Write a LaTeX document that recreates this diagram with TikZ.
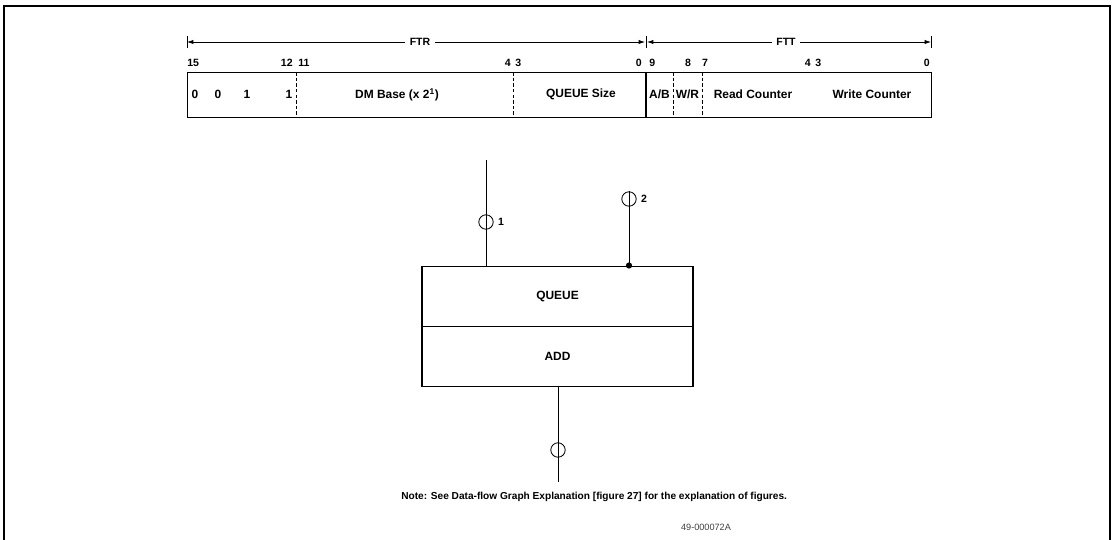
\documentclass[tikz,border=0pt]{standalone}
\usepackage{fontspec}
\setsansfont{Liberation Sans}
\usetikzlibrary{arrows.meta,positioning,calc}

\begin{document}
\begin{tikzpicture}[x=0.025cm, y=-0.025cm,
  every node/.style={font=\sffamily\bfseries\fontsize{8.5}{10}\selectfont, inner sep=0pt},
  bitno/.style={font=\sffamily\bfseries\fontsize{7.5}{9}\selectfont},
  divider/.style={line width=0.6pt, dash pattern=on 2.5pt off 1.5pt},
  opbox/.style={draw, line width=0.9pt, outer sep=0pt, minimum width=6.775cm, minimum height=1.5cm},
  port/.style={draw, circle, line width=0.6pt, minimum size=0.36cm},
  fieldspan/.style={line width=0.5pt, -{Latex[length=4.5pt,width=3pt]}}]
  \pgfmathsetmacro{\regtop}{72}
  \pgfmathsetmacro{\regbot}{117}
  \pgfmathsetmacro{\numy}{66}
  \pgfmathsetmacro{\spany}{42}
  \useasboundingbox (0,0) rectangle (1114,540);
  % Frame (open at the bottom)
  \draw[line width=1.2pt] (4,540) -- (4,6) -- (1110,6) -- (1110,540);
  % FTR / FTT spans
  \node[bitno, inner sep=3pt] (ftr) at (420,\spany) {FTR};
  \node[bitno, inner sep=3pt] (ftt) at (786,\spany) {FTT};
  \coordinate (ftrL) at (187,\spany);
  \coordinate (ftrR) at (645,\spany);
  \coordinate (fttL) at (647,\spany);
  \coordinate (fttR) at (931,\spany);
  \draw[fieldspan] (ftr.west) -- (ftrL);
  \draw[fieldspan] (ftr.east) -- (ftrR);
  \draw[fieldspan] (ftt.west) -- (fttL);
  \draw[fieldspan] (ftt.east) -- (fttR);
  \foreach \x in {187,646,931}
    \draw[line width=0.6pt] (\x,\spany-6) -- (\x,\spany+6);
  % Register
  \node[draw, line width=0.8pt, anchor=north west, minimum width=18.6cm,
    minimum height=1.125cm] (reg) at (187,\regtop) {};
  \foreach \x in {296,513,673,702}
    \draw[divider] (\x,\regtop) -- (\x,\regbot);
  \draw[line width=0.8pt] (646,\regtop) -- (646,\regbot);
  % Field contents
  \foreach \x/\v in {195/0, 218/0, 247/1, 289/1}
    \node at (\x,94.5) {\v};
  \node (dmbase) at (397,94.5) {DM Base (x 2\textsuperscript{1})};
  \node (qsize) at (581,94.5) {QUEUE Size};
  \node (ab) at (659.5,94.5) {A/B};
  \node (wr) at (687.5,94.5) {W/R};
  \node (rdcnt) at (753,94.5) {Read Counter};
  \node (wrcnt) at (872,94.5) {Write Counter};
  % Bit numbers
  \node[bitno, anchor=base west] at (187,\numy) {15};
  \node[bitno, anchor=base east] at (293,\numy) {12};
  \node[bitno, anchor=base west] at (298,\numy) {11};
  \node[bitno, anchor=base east] at (511,\numy) {4};
  \node[bitno, anchor=base west] at (515,\numy) {3};
  \node[bitno, anchor=base east] at (642,\numy) {0};
  \node[bitno, anchor=base west] at (649,\numy) {9};
  \node[bitno, anchor=base] at (688,\numy) {8};
  \node[bitno, anchor=base] at (705,\numy) {7};
  \node[bitno, anchor=base east] at (811,\numy) {4};
  \node[bitno, anchor=base west] at (815,\numy) {3};
  \node[bitno, anchor=base east] at (930,\numy) {0};
  % QUEUE / ADD operator
  \node[opbox] (queue) at (557.5,296.5) {QUEUE};
  \node[opbox, below=0pt of queue] (add) {ADD};
  % Input 1
  \coordinate (in1) at (486,160);
  \node[port] (p1) at (486,222) {};
  \node[bitno, right=3pt of p1] (l1) {1};
  \draw[line width=0.5pt] (in1) -- (in1 |- queue.north);
  % Input 2
  \node[port] (p2) at (629,199) {};
  \node[bitno, right=3pt of p2] (l2) {2};
  \draw[line width=0.5pt] (p2.north) -- (p2.north |- queue.north);
  \fill ($(p2.north |- queue.north)+(0,-1)$) circle (2.2pt);
  % Output
  \coordinate (out) at (558,482);
  \node[port] (p3) at (558,450) {};
  \draw[line width=0.5pt] (out |- add.south) -- (out);
  % Note and figure number
  \node[font=\sffamily\bfseries\fontsize{7.2}{9}\selectfont, anchor=west] (note) at (401,497)
    {Note: See Data-flow Graph Explanation [figure 27] for the explanation of figures.};
  \node[font=\sffamily\fontsize{6.5}{8}\selectfont, text=black!75] (figno) at (706,527) {49-000072A};
\end{tikzpicture}
\end{document}
